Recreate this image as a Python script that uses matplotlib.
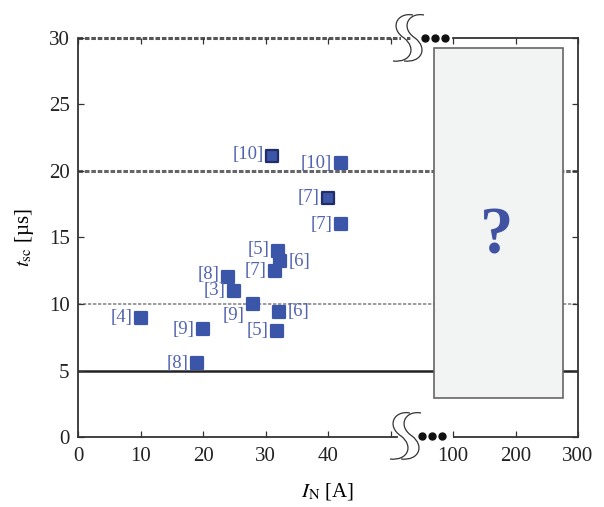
import numpy as np
import matplotlib
matplotlib.use("Agg")
import matplotlib.pyplot as plt
from matplotlib.patches import Rectangle, PathPatch
from matplotlib.path import Path
from matplotlib.markers import MarkerStyle

plt.rcParams['font.family'] = ['Liberation Serif', 'DejaVu Serif']
plt.rcParams['mathtext.fontset'] = 'stix'

# short-circuit withstand time vs. nominal current
refs = ['[10]', '[10]', '[7]', '[7]', '[5]', '[6]', '[7]', '[8]',
        '[3]', '[9]', '[6]', '[4]', '[9]', '[5]', '[8]']
i_n = [31, 42, 40, 42, 32, 32.3, 31.5, 24, 25, 28, 32.2, 10, 20, 31.8, 19]
t_sc = [21.1, 20.6, 18, 16, 14, 13.2, 12.5, 12, 11, 10, 9.4, 8.95, 8.1, 8, 5.55]
outlined = [True, False, True, False, False, False, False, False,
            False, False, False, False, False, False, False]

xticks = [0, 10, 20, 30, 40, 50, 100, 200, 300]
xticklabels = ['0', '10', '20', '30', '40', '', '100', '200', '300']
yticks = [0, 5, 10, 15, 20, 25, 30]

# label offsets in points (dx, dy, ha)
offs = [(-6, 1, 'right'), (-6, 0, 'right'), (-6, 0, 'right'), (-6, 0, 'right'),
        (-6, 1, 'right'), (6, 0, 'left'), (-6, 0, 'right'), (-6, 2, 'right'),
        (-6, 0, 'right'), (-6, -8, 'right'), (6, 0, 'left'), (-6, 0, 'right'),
        (-6, 0, 'right'), (-6, 0, 'right'), (-6, 0, 'right')]


def fwd(x):
    x = np.asarray(x, dtype=float)
    return np.where(x <= 59, x, np.where(x <= 100, 59 + (x - 59) / 41.0,
                                         60 + (x - 100) / 10.0))


def inv(u):
    u = np.asarray(u, dtype=float)
    return np.where(u <= 59, u, np.where(u <= 60, 59 + (u - 59) * 41.0,
                                         100 + (u - 60) * 10.0))


fig = plt.figure(figsize=(6.04, 5.07), dpi=100)
ax = fig.add_axes([78 / 604, 70 / 507, 500 / 604, 399 / 507])
ax.set_xscale('function', functions=(fwd, inv))
ax.set_xlim(0, 300)
ax.set_ylim(0, 30)

spc = '#333333'
for s in ax.spines.values():
    s.set_color(spc)
    s.set_linewidth(1.3)
ax.spines['bottom'].set_bounds(0, 51)
ax.spines['top'].set_bounds(100, 300)
ax.plot([100, 300], [0, 0], color=spc, lw=1.3, transform=ax.get_xaxis_transform(),
        clip_on=False, zorder=5, solid_capstyle='butt')

ax.set_xticks(xticks)
ax.set_xticklabels(xticklabels)
ax.set_yticks(yticks)
ax.tick_params(direction='in', length=4, width=0.9, color=spc, top=True, right=True,
               labelsize=15, pad=6, labelcolor='#222222')
ax.tick_params(axis='x', pad=7)

# reference levels
ax.axhline(5, color='#222222', lw=1.8, zorder=1)
ax.axhline(10, color='#8a8a8a', lw=1.2, ls=(0, (2, 1)), zorder=1)
ax.axhline(20, color='#666666', lw=2.2, ls=(0, (1.5, 0.6)), zorder=1)
ax.plot([0, 53.4], [30, 30], color='#555555', lw=2.2, ls=(0, (1.5, 0.6)),
        clip_on=False, zorder=1)

# unknown region box
box = Rectangle((0.712, 0.098), 0.258, 0.877, transform=ax.transAxes,
                facecolor='#f2f3f3', edgecolor='#666666', lw=1.2, zorder=3)
ax.add_patch(box)
ax.text(0.838, 0.5, '?', transform=ax.transAxes, ha='center', va='center',
        fontsize=48, fontweight='bold', color='#4152a2', zorder=4)

blue = '#3b55a8'
sq = MarkerStyle('s', joinstyle='round')
for x, y, r, o, (dx, dy, ha) in zip(i_n, t_sc, refs, outlined, offs):
    ax.plot(x, y, marker=sq, ls='none', ms=8.6, color=blue,
            mec='#222c66' if o else blue, mew=1.6, zorder=6)
    ax.annotate(r, (x, y), xytext=(dx, dy), textcoords='offset points',
                ha=ha, va='center', fontsize=13.5, color='#5263b0', zorder=7)

ax.set_xlabel(r'$I_{\mathrm{N}}$ [A]', fontsize=15, labelpad=11)
ax.set_ylabel(r'$t_{\mathrm{sc}}$ [µs]', fontsize=15, labelpad=9)

# axis break marks, drawn on a pixel overlay
ov = fig.add_axes([0, 0, 1, 1], zorder=10)
ov.set_xlim(0, 604)
ov.set_ylim(507, 0)
ov.axis('off')
ov.patch.set_alpha(0)

s_verts = [(9, -23), (-7, -26), (-15, -10), (0, 0), (13, 10), (7, 25), (-11, 23)]
s_codes = [Path.MOVETO] + [Path.CURVE4] * 6


def draw_break(cx, cy):
    for k in range(2):
        v = [(cx + k * 11 + a, cy + b) for a, b in s_verts]
        ov.add_patch(PathPatch(Path(v, s_codes), fill=False, ec='#333333', lw=0.9))
        ov.add_patch(Rectangle((cx + k * 11 - 3, cy - 3), 6, 6, fc='white', ec='none',
                               zorder=0))
    ov.plot([cx + 21, cx + 31, cx + 41], [cy, cy, cy], 'o', color='#111111', ms=5)


draw_break(404, 38)
draw_break(401, 436)

fig.savefig('out.png', dpi=100)
